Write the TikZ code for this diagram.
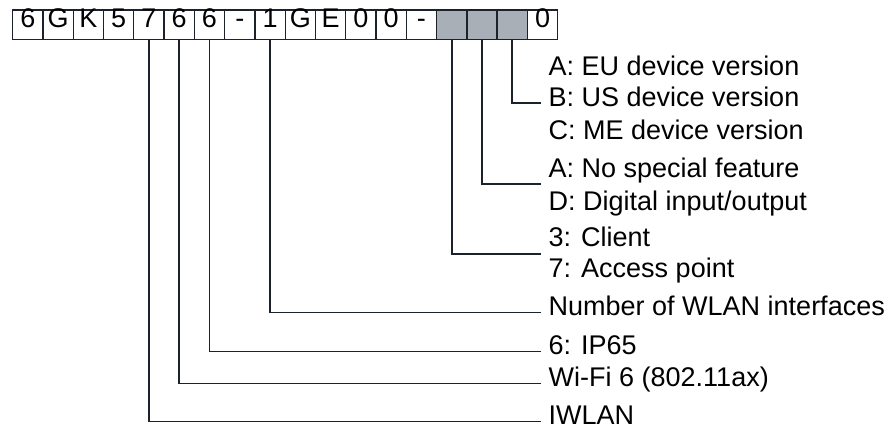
\documentclass[tikz,border=0pt]{standalone}
\usepackage{fontspec}
\setmainfont{Liberation Sans}
\usetikzlibrary{positioning,calc}
\definecolor{linecol}{HTML}{1B222B}
\definecolor{slotgray}{HTML}{A8AFB7}

\begin{document}
\begin{tikzpicture}[
    x=1pt, y=-1pt,
    font=\fontsize{27}{32}\selectfont,
    box/.style={draw=linecol, line width=1.3pt, minimum width=30.28pt, minimum height=29.3pt,
        inner sep=0pt, text height=0.72em, text depth=0.18em},
    digit/.style={box},
    slot/.style={box, fill=slotgray},
    lbl/.style={anchor=base west, inner xsep=7.5pt, inner ysep=0pt, text height=0.72em, text depth=0.21em},
    lead/.style={draw=linecol, line width=1.8pt}
]
\useasboundingbox (0,0) rectangle (885,431);

% Order number boxes
\foreach \c/\s [count=\i from 0] in {6/digit,G/digit,K/digit,5/digit,7/digit,6/digit,6/digit,-/digit,
    1/digit,G/digit,E/digit,0/digit,0/digit,-/digit,{}/slot,{}/slot,{}/slot,0/digit}
    \node[\s] (b\i) at ({27.8+30.28*\i}, 24.6) {\c};

% Labels
\node[lbl] (eu)     at (541, 75)    {A: EU device version};
\node[lbl] (us)     at (541, 106.7) {B: US device version};
\node[lbl] (me)     at (541, 139)   {C: ME device version};
\node[lbl] (nofeat) at (541, 177)   {A: No special feature};
\node[lbl] (dio)    at (541, 210)   {D: Digital input/output};
\node[lbl] (client) at (541, 246)   {3: Client};
\node[lbl] (ap)     at (541, 277.7) {7: Access point};
\node[lbl] (wlan)   at (541, 315)   {Number of WLAN interfaces};
\node[lbl] (ip)     at (541, 354)   {6: IP65};
\node[lbl] (wifi)   at (541, 386)   {Wi-Fi 6 (802.11ax)};
\node[lbl] (iwlan)  at (541, 424)   {IWLAN};

% Ends of the leads between two options
\coordinate (version) at (541, 102.7);
\coordinate (feature) at (541, 184);
\coordinate (mode)    at (541, 254);

% Leads
\draw[lead] (b16.south) |- (version);
\draw[lead] (b15.south) |- (feature);
\draw[lead] (b14.south) |- (mode);
\draw[lead] (b8.south) |- (wlan.west);
\draw[lead] (b6.south) |- (ip.west);
\draw[lead] (b5.south) |- (wifi.west);
\draw[lead] (b4.south) |- (iwlan.west);

\end{tikzpicture}
\end{document}
